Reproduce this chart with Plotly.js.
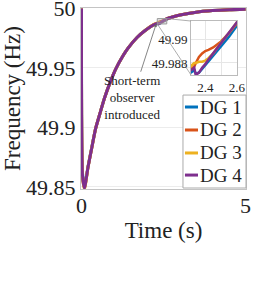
<!DOCTYPE html>
<html>
<head>
<meta charset="utf-8">
<script src="https://cdn.plot.ly/plotly-3.0.1.min.js"></script>
<style>
html,body{margin:0;padding:0;background:#fff;}
#chart{width:269px;height:292px;}
</style>
</head>
<body>
<div id="chart"></div>
<script>
// Time (s)
var time = [0, 0.03, 0.09, 0.2, 0.31, 0.43, 0.56, 0.7, 0.87, 1.05, 1.27, 1.42, 1.7, 1.94, 2.2,
            2.33, 2.34, 2.36, 2.38, 2.4, 2.42, 2.45, 2.5, 2.55, 2.6, 2.8, 3.0, 3.5, 4.0, 4.5, 5.0];
// Frequency (Hz) per DG
var dg1 = [50, 49.862, 49.850, 49.8672, 49.8828, 49.899, 49.9115, 49.9245, 49.9377, 49.9495, 49.9605, 49.9667, 49.9758, 49.9815, 49.9862,
           49.9874, 49.9871, 49.9872, 49.9875, 49.9878, 49.9881, 49.9886, 49.9894, 49.9902, 49.9911, 49.9930, 49.9944, 49.9969, 49.9982, 49.9990, 49.9994];
var dg2 = [50, 49.86, 49.849, 49.8667, 49.8824, 49.899, 49.9115, 49.9245, 49.9377, 49.9495, 49.9605, 49.9667, 49.9758, 49.9815, 49.9864,
           49.9877, 49.9880, 49.9885, 49.9888, 49.9890, 49.9891, 49.9893, 49.9898, 49.9905, 49.9913, 49.9931, 49.9945, 49.9969, 49.9982, 49.9990, 49.9994];
var dg3 = [50, 49.86, 49.848, 49.8667, 49.8824, 49.899, 49.9115, 49.9245, 49.9377, 49.9495, 49.9605, 49.9667, 49.9758, 49.9815, 49.9864,
           49.9880, 49.9880, 49.9881, 49.9881, 49.9882, 49.9884, 49.9888, 49.9897, 49.9905, 49.9914, 49.9931, 49.9945, 49.9969, 49.9982, 49.9990, 49.9994];
var dg4 = [50, 49.86, 49.849, 49.8667, 49.8824, 49.899, 49.9115, 49.9245, 49.9377, 49.9495, 49.9605, 49.9667, 49.9758, 49.9815, 49.9863,
           49.9876, 49.9870, 49.9872, 49.9876, 49.9879, 49.9883, 49.9888, 49.9897, 49.9905, 49.9914, 49.9931, 49.9945, 49.9969, 49.9982, 49.9990, 49.9994];
var seriesNames = ['DG 1', 'DG 2', 'DG 3', 'DG 4'];
var seriesColors = ['#0072BD', '#D95319', '#EDB120', '#7E2F8E'];
var yTickVals = [49.85, 49.9, 49.95, 50];
var yTickText = ['49.85', '49.9', '49.95', '50'];
var xTickVals = [0, 5];
var xTickText = ['0', '5'];
var insetXTickVals = [2.4, 2.5, 2.6];
var insetXTickText = ['2.4', '', '2.6'];
var insetYTickVals = [49.988, 49.99];
var insetYTickText = ['49.988', '49.99'];

var serif = 'Liberation Serif';
var allSeries = [dg1, dg2, dg3, dg4];

var xRange = [-0.015, 5.015];
var yRange = [49.8483, 50.0004];
var insetX = [2.31, 2.6];
var insetY = [49.987, 49.9915];
var insetDomX = [0.667, 0.945];
var insetDomY = [0.630, 0.928];

var traces = [];
allSeries.forEach(function(s, i) {
  traces.push({x: time, y: s, type: 'scatter', mode: 'lines', name: seriesNames[i],
    line: {color: seriesColors[i], width: 3, shape: 'spline', smoothing: 0.6}, xaxis: 'x', yaxis: 'y', showlegend: false, hoverinfo: 'skip'});
});
allSeries.forEach(function(s, i) {
  traces.push({x: time, y: s, type: 'scatter', mode: 'lines', name: seriesNames[i],
    line: {color: seriesColors[i], width: 2.5}, xaxis: 'x2', yaxis: 'y2', showlegend: false, hoverinfo: 'skip'});
});

function px(t) { return (t - xRange[0]) / (xRange[1] - xRange[0]); }
function py(f) { return (f - yRange[0]) / (yRange[1] - yRange[0]); }

var shapes = [
  {type: 'rect', xref: 'x', yref: 'y', x0: insetX[0], x1: insetX[1], y0: insetY[0], y1: insetY[1],
   line: {color: '#999', width: 1}, fillcolor: 'rgba(180,180,180,0.4)'},
  {type: 'line', xref: 'paper', yref: 'paper', x0: px(insetX[1]), y0: py(insetY[1]), x1: insetDomX[0], y1: insetDomY[1],
   line: {color: '#999', width: 0.8}},
  {type: 'line', xref: 'paper', yref: 'paper', x0: px(insetX[0]), y0: py(insetY[0]), x1: insetDomX[0], y1: insetDomY[0],
   line: {color: '#999', width: 0.8}},
  {type: 'rect', xref: 'paper', yref: 'paper', x0: 0.618, x1: 1.0, y0: 0.0055, y1: 0.519,
   line: {color: '#aaaaaa', width: 1}, fillcolor: '#ffffff'}
];
var legendY = [0.453, 0.326, 0.199, 0.077];
var annotations = [
  {xref: 'x', yref: 'y', x: 2.28, y: 49.9872, ax: -24, ay: 74, axref: 'pixel', ayref: 'pixel',
   text: 'Short-term<br>observer<br>introduced', showarrow: true, arrowhead: 2, arrowsize: 0.8,
   arrowwidth: 0.8, arrowcolor: '#666', font: {family: serif, size: 13, color: '#222'}, align: 'center'}
];
seriesNames.forEach(function(n, i) {
  shapes.push({type: 'line', xref: 'paper', yref: 'paper', x0: 0.630, x1: 0.709, y0: legendY[i], y1: legendY[i],
    line: {color: seriesColors[i], width: 3}});
  annotations.push({xref: 'paper', yref: 'paper', x: 0.712, y: legendY[i], xanchor: 'left', yanchor: 'middle',
    text: n, showarrow: false, font: {family: serif, size: 19, color: '#222'}});
});

var layout = {
  width: 269, height: 292,
  margin: {l: 81, r: 23, t: 8, b: 103},
  paper_bgcolor: '#fff', plot_bgcolor: '#fff',
  showlegend: false,
  font: {family: serif, color: '#222'},
  xaxis: {range: xRange, tickvals: xTickVals, ticktext: xTickText, showgrid: false, zeroline: false,
    showline: true, mirror: true, linecolor: '#c4c4c4', linewidth: 1, ticks: '', ticklabelstandoff: -3,
    tickfont: {family: serif, size: 22, color: '#222'},
    title: {text: 'Time (s)', font: {family: serif, size: 23, color: '#222'}, standoff: 4}},
  yaxis: {range: yRange, tickvals: yTickVals, ticktext: yTickText, showgrid: true, gridcolor: '#ececec',
    zeroline: false, showline: true, mirror: true, linecolor: '#c4c4c4', linewidth: 1, ticks: '',
    ticklabeloverflow: 'allow',
    tickfont: {family: serif, size: 22, color: '#222'},
    title: {text: 'Frequency (Hz)', font: {family: serif, size: 23, color: '#222'}, standoff: 4}},
  xaxis2: {domain: insetDomX, anchor: 'y2', range: insetX, tickvals: insetXTickVals, ticktext: insetXTickText,
    showgrid: true, gridcolor: '#e6e6e6', zeroline: false, showline: true, mirror: true, linecolor: '#bbbbbb',
    ticks: '', tickfont: {family: serif, size: 13, color: '#222'}},
  yaxis2: {domain: insetDomY, anchor: 'x2', range: insetY, tickvals: insetYTickVals, ticktext: insetYTickText,
    showgrid: true, gridcolor: '#e6e6e6', zeroline: false, showline: true, mirror: true, linecolor: '#bbbbbb',
    ticks: '', tickfont: {family: serif, size: 13, color: '#222'}},
  shapes: shapes,
  annotations: annotations
};

Plotly.newPlot('chart', traces, layout, {displayModeBar: false, staticPlot: true});
</script>
</body>
</html>
